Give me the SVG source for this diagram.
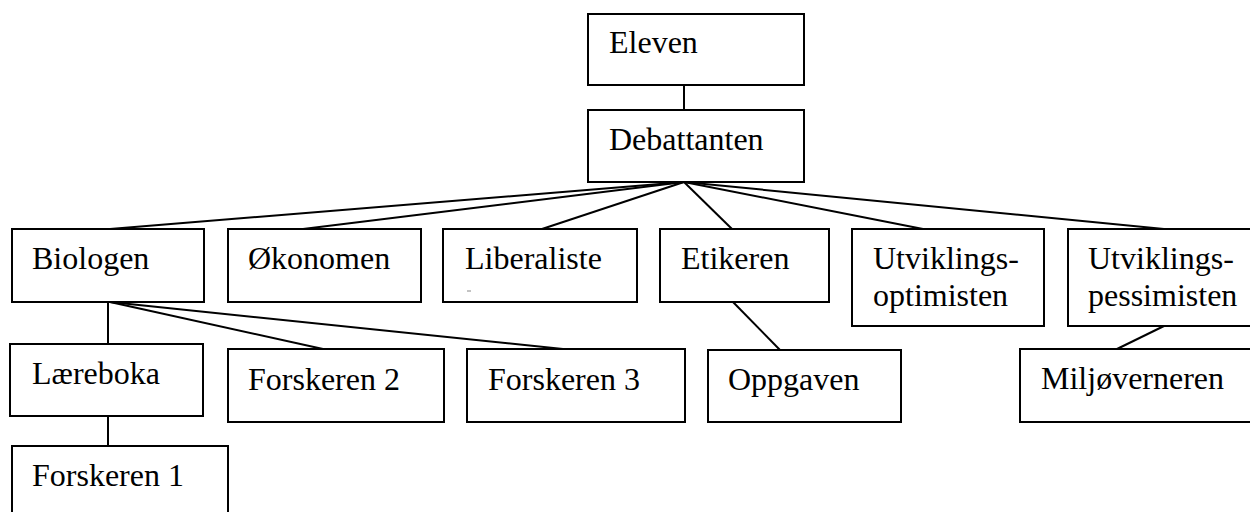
<svg xmlns="http://www.w3.org/2000/svg" width="1250" height="512" viewBox="0 0 1250 512">
  <style>
    .box { fill: #ffffff; stroke: #000000; stroke-width: 2; }
    .lbl { font-family: "Liberation Serif", "Times New Roman", serif; font-size: 32px; fill: #000000; }
    .edge { stroke: #000000; stroke-width: 2; fill: none; }
  </style>
  <rect width="1250" height="512" fill="#ffffff"/>

  <!-- connectors -->
  <g id="connectors">
    <line class="edge" x1="684" y1="85" x2="684" y2="110"/>
    <line class="edge" x1="684" y1="182" x2="110" y2="229"/>
    <line class="edge" x1="684" y1="182" x2="303" y2="229"/>
    <line class="edge" x1="684" y1="182" x2="542" y2="229"/>
    <line class="edge" x1="684" y1="182" x2="732" y2="229"/>
    <line class="edge" x1="684" y1="182" x2="923" y2="229"/>
    <line class="edge" x1="684" y1="182" x2="1164" y2="229"/>
    <line class="edge" x1="108" y1="302" x2="108" y2="344"/>
    <line class="edge" x1="110" y1="302" x2="323" y2="349"/>
    <line class="edge" x1="110" y1="302" x2="563" y2="349"/>
    <line class="edge" x1="108" y1="416" x2="108" y2="446"/>
    <line class="edge" x1="733" y1="302" x2="780" y2="350"/>
    <line class="edge" x1="1164" y1="326" x2="1117" y2="349"/>
  </g>

  <g id="eleven">
    <rect class="box" x="588" y="14" width="216" height="71"/>
    <text class="lbl" x="609" y="53">Eleven</text>
  </g>
  <g id="debattanten">
    <rect class="box" x="588" y="110" width="216" height="72"/>
    <text class="lbl" x="609" y="150">Debattanten</text>
  </g>

  <g id="biologen">
    <rect class="box" x="12" y="229" width="192" height="73"/>
    <text class="lbl" x="32" y="269">Biologen</text>
  </g>
  <g id="okonomen">
    <rect class="box" x="228" y="229" width="193" height="73"/>
    <text class="lbl" x="248" y="269">Økonomen</text>
  </g>
  <g id="liberaliste">
    <rect class="box" x="443" y="229" width="194" height="73"/>
    <text class="lbl" x="465" y="269">Liberaliste</text>
    <line x1="467" y1="291" x2="471" y2="291" stroke="#888888" stroke-width="1"/>
  </g>
  <g id="etikeren">
    <rect class="box" x="660" y="229" width="169" height="73"/>
    <text class="lbl" x="681" y="269">Etikeren</text>
  </g>
  <g id="utviklingsoptimisten">
    <rect class="box" x="852" y="229" width="192" height="97"/>
    <text class="lbl" x="873" y="269">Utviklings-</text>
    <text class="lbl" x="873" y="306">optimisten</text>
  </g>
  <g id="utviklingspessimisten">
    <rect class="box" x="1068" y="229" width="192" height="97"/>
    <text class="lbl" x="1088" y="269">Utviklings-</text>
    <text class="lbl" x="1088" y="306">pessimisten</text>
  </g>

  <g id="lareboka">
    <rect class="box" x="10" y="344" width="193" height="72"/>
    <text class="lbl" x="32" y="384">Læreboka</text>
  </g>
  <g id="forskeren2">
    <rect class="box" x="228" y="349" width="216" height="73"/>
    <text class="lbl" x="248" y="390">Forskeren 2</text>
  </g>
  <g id="forskeren3">
    <rect class="box" x="467" y="349" width="218" height="73"/>
    <text class="lbl" x="488" y="390">Forskeren 3</text>
  </g>
  <g id="oppgaven">
    <rect class="box" x="708" y="350" width="193" height="72"/>
    <text class="lbl" x="728" y="390">Oppgaven</text>
  </g>
  <g id="miljoverneren">
    <rect class="box" x="1020" y="349" width="240" height="73"/>
    <text class="lbl" x="1041" y="389">Miljøverneren</text>
  </g>

  <g id="forskeren1">
    <rect class="box" x="12" y="446" width="216" height="80"/>
    <text class="lbl" x="32" y="486">Forskeren 1</text>
  </g>
</svg>
